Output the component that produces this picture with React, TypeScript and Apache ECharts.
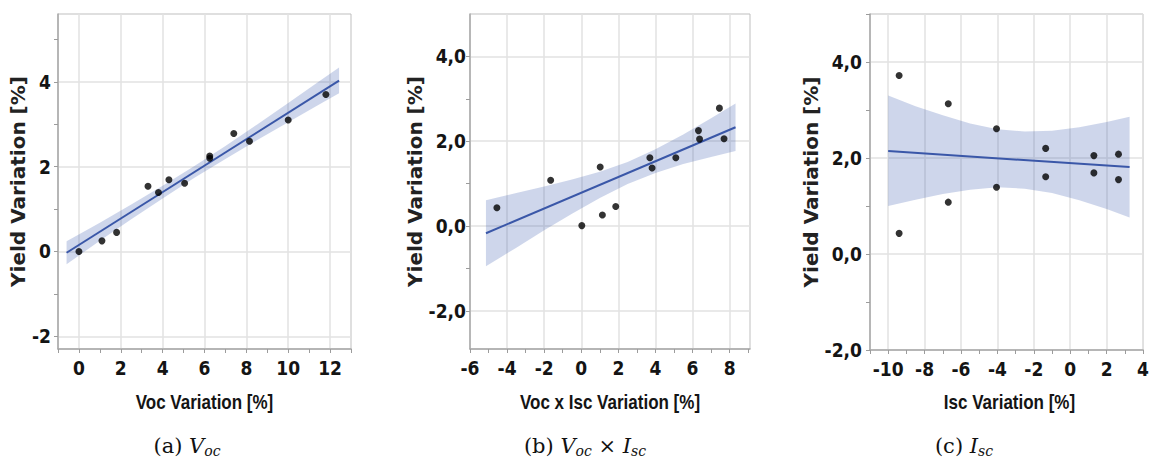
import React, { useEffect, useRef } from "react";
import * as echarts from "echarts";

const NARROW = "'Liberation Sans Narrow', 'DejaVu Sans Condensed', 'Arial Narrow', sans-serif";
const ARIAL = "'Liberation Sans', Arial, sans-serif";
const SANS = "'DejaVu Sans', 'Liberation Sans', sans-serif";
const SERIF = "'DejaVu Serif', 'Liberation Serif', serif";

// ---- (a) Yield variation vs Voc variation ----
const vocX = [0, 1.1, 1.8, 3.3, 3.8, 4.3, 5.05, 6.25, 6.25, 7.4, 8.15, 10.0, 11.8];
const vocY = [0, 0.25, 0.45, 1.54, 1.39, 1.69, 1.61, 2.25, 2.2, 2.78, 2.6, 3.1, 3.7];
const vocFitX = [-0.59, 12.43];
const vocFitY = [-0.03, 4.03];
const vocBandX = [-0.59, 1, 2.5, 4, 5.5, 7, 8.5, 10, 11.5, 12.43];
const vocBandUpper = [0.24, 0.68, 1.11, 1.55, 2.01, 2.49, 2.99, 3.5, 4.02, 4.34];
const vocBandLower = [-0.3, 0.25, 0.76, 1.25, 1.73, 2.18, 2.62, 3.05, 3.47, 3.73];
const vocXTicks = [-1, 0, 1, 2, 3, 4, 5, 6, 7, 8, 9, 10, 11, 12, 13];
const vocXLabels = [0, 2, 4, 6, 8, 10, 12];
const vocYTicks = [-2, -1, 0, 1, 2, 3, 4, 5];
const vocYLabels = [-2, 0, 2, 4];

// ---- (b) Yield variation vs Voc x Isc variation ----
const prodX = [-4.55, -1.65, 0.03, 1.02, 1.14, 1.86, 3.7, 3.82, 5.1, 6.32, 6.38, 7.45, 7.7];
const prodY = [0.43, 1.08, 0.01, 1.39, 0.26, 0.46, 1.61, 1.37, 1.61, 2.25, 2.05, 2.78, 2.06];
const prodFitX = [-5.14, 8.32];
const prodFitY = [-0.17, 2.33];
const prodBandX = [-5.14, -3.5, -2, -0.5, 1, 2.5, 4, 5.5, 7, 8.32];
const prodBandUpper = [0.61, 0.78, 0.93, 1.1, 1.28, 1.51, 1.81, 2.16, 2.54, 2.89];
const prodBandLower = [-0.95, -0.51, -0.1, 0.29, 0.66, 0.99, 1.25, 1.46, 1.63, 1.77];
const prodXTicks = [-6, -5, -4, -3, -2, -1, 0, 1, 2, 3, 4, 5, 6, 7, 8, 9];
const prodXLabels = [-6, -4, -2, 0, 2, 4, 6, 8];
const prodYTicks = [-2, -1, 0, 1, 2, 3, 4];
const prodYLabels = [-2, 0, 2, 4];

// ---- (c) Yield variation vs Isc variation ----
const iscX = [-9.4, -9.4, -6.7, -6.7, -4.05, -4.05, -1.35, -1.35, 1.3, 1.3, 2.65, 2.65];
const iscY = [3.72, 0.43, 3.13, 1.08, 2.61, 1.39, 2.2, 1.61, 2.05, 1.69, 2.08, 1.55];
const iscFitX = [-10, 3.26];
const iscFitY = [2.145, 1.81];
const iscBandX = [-10, -8.5, -7, -5.5, -4, -2.5, -1, 0.5, 2, 3.26];
const iscBandUpper = [3.3, 3.08, 2.89, 2.72, 2.6, 2.55, 2.57, 2.64, 2.75, 2.86];
const iscBandLower = [1.0, 1.13, 1.25, 1.34, 1.39, 1.36, 1.27, 1.12, 0.94, 0.76];
const iscXTicks = [-11, -10, -9, -8, -7, -6, -5, -4, -3, -2, -1, 0, 1, 2, 3, 4];
const iscXLabels = [-10, -8, -6, -4, -2, 0, 2, 4];
const iscYTicks = [-2, -1, 0, 1, 2, 3, 4, 5];
const iscYLabels = [-2, 0, 2, 4];

// Caption pieces: [text, kind] where kind is n = upright, i = italic, s = italic subscript
type Piece = [string, "n" | "i" | "s"];
const captionA: Piece[] = [["(a) ", "n"], ["V", "i"], ["oc", "s"]];
const captionB: Piece[] = [["(b) ", "n"], ["V", "i"], ["oc", "s"], [" × ", "n"], ["I", "i"], ["sc", "s"]];
const captionC: Piece[] = [["(c) ", "n"], ["I", "i"], ["sc", "s"]];

const commaOne = (v: number) => v.toFixed(1).replace(".", ",");
const plain = (v: number) => String(v);

type Panel = {
  box: [number, number, number, number];
  xRange: [number, number];
  yRange: [number, number];
  xTicks: number[];
  xLabels: number[];
  yTicks: number[];
  yLabels: number[];
  yFormat: (v: number) => string;
  yLabelMargin: number;
  xName: string;
  yNameGap: number;
  caption: Piece[];
  captionX: number;
  px: number[];
  py: number[];
  fitX: number[];
  fitY: number[];
  bandX: number[];
  bandUpper: number[];
  bandLower: number[];
};

const panels: Panel[] = [
  {
    box: [58, 14, 293, 335],
    xRange: [-1, 13],
    yRange: [-2.3, 5.6],
    xTicks: vocXTicks,
    xLabels: vocXLabels,
    yTicks: vocYTicks,
    yLabels: vocYLabels,
    yFormat: plain,
    yLabelMargin: 7,
    xName: "Voc Variation [%]",
    yNameGap: 29,
    caption: captionA,
    captionX: 187,
    px: vocX,
    py: vocY,
    fitX: vocFitX,
    fitY: vocFitY,
    bandX: vocBandX,
    bandUpper: vocBandUpper,
    bandLower: vocBandLower,
  },
  {
    box: [470, 14, 280, 335],
    xRange: [-6, 9.1],
    yRange: [-2.9, 5],
    xTicks: prodXTicks,
    xLabels: prodXLabels,
    yTicks: prodYTicks,
    yLabels: prodYLabels,
    yFormat: commaOne,
    yLabelMargin: 4,
    xName: "Voc x Isc Variation [%]",
    yNameGap: 42,
    caption: captionB,
    captionX: 585,
    px: prodX,
    py: prodY,
    fitX: prodFitX,
    fitY: prodFitY,
    bandX: prodBandX,
    bandUpper: prodBandUpper,
    bandLower: prodBandLower,
  },
  {
    box: [870, 14, 279, 336],
    xRange: [-11, 4],
    yRange: [-2, 5],
    xTicks: iscXTicks,
    xLabels: iscXLabels,
    yTicks: iscYTicks,
    yLabels: iscYLabels,
    yFormat: commaOne,
    yLabelMargin: 8,
    xName: "Isc Variation [%]",
    yNameGap: 43,
    caption: captionC,
    captionX: 964,
    px: iscX,
    py: iscY,
    fitX: iscFitX,
    fitY: iscFitY,
    bandX: iscBandX,
    bandUpper: iscBandUpper,
    bandLower: iscBandLower,
  },
];

const AXIS_COLOR = "#a8a8a8";
const GRID_COLOR = "#e2e2e2";
const TICK_TEXT = {
  fontFamily: NARROW,
  fontWeight: "bold" as const,
  fontSize: 19,
  color: "#141414",
};

const PIECE_FONT: Record<string, string> = {
  n: `21px ${SERIF}`,
  i: `italic 21px ${SERIF}`,
  s: `italic 14px ${SERIF}`,
};

// Lay out a caption as separate text elements so the subscripts sit lower.
function captionElements(parts: Piece[], cx: number, cy: number) {
  const ctx = document.createElement("canvas").getContext("2d") as CanvasRenderingContext2D;
  const widths = parts.map(([t, k]) => {
    ctx.font = PIECE_FONT[k];
    return ctx.measureText(t).width;
  });
  const total = widths.reduce((a, b) => a + b, 0);
  let x = cx - total / 2;
  return parts.map(([t, k], idx) => {
    const el = {
      type: "text",
      x,
      y: k === "s" ? cy + 4.5 : cy,
      silent: true,
      style: {
        text: t,
        font: PIECE_FONT[k],
        fill: "#111",
        align: "left",
        verticalAlign: "middle",
      },
    };
    x += widths[idx];
    return el;
  });
}

function buildOption() {
  const grid: any[] = [];
  const xAxis: any[] = [];
  const yAxis: any[] = [];
  const series: any[] = [];
  const graphic: any[] = [];

  panels.forEach((p, i) => {
    const [left, top, width, height] = p.box;
    grid.push({
      left,
      top,
      width,
      height,
      show: true,
      borderColor: "#bfbfbf",
      borderWidth: 1,
      backgroundColor: "transparent",
    });

    // visible axes: ticks at every integer, labels at even values
    xAxis.push({
      type: "value",
      gridIndex: i,
      position: "bottom",
      min: p.xRange[0],
      max: p.xRange[1],
      axisLine: { show: true, onZero: false, lineStyle: { color: AXIS_COLOR, width: 1.5 } },
      axisTick: { show: true, length: 4, customValues: p.xTicks, lineStyle: { color: "#9c9c9c", width: 1 } },
      axisLabel: { customValues: p.xLabels, margin: 9, formatter: plain, ...TICK_TEXT },
      splitLine: { show: false },
    });
    // grid-line axis: major values only
    xAxis.push({
      type: "value",
      gridIndex: i,
      position: "bottom",
      min: p.xRange[0],
      max: p.xRange[1],
      axisLine: { show: false },
      axisTick: { show: false, customValues: p.xLabels },
      axisLabel: { show: false, customValues: p.xLabels },
      splitLine: { show: true, lineStyle: { color: GRID_COLOR, width: 1.5 } },
    });

    yAxis.push({
      type: "value",
      gridIndex: i,
      position: "left",
      min: p.yRange[0],
      max: p.yRange[1],
      axisLine: { show: true, onZero: false, lineStyle: { color: AXIS_COLOR, width: 1.5 } },
      axisTick: { show: true, length: 4, customValues: p.yTicks, lineStyle: { color: "#9c9c9c", width: 1 } },
      axisLabel: { customValues: p.yLabels, margin: p.yLabelMargin, formatter: p.yFormat, ...TICK_TEXT },
      splitLine: { show: false },
      name: "Yield Variation [%]",
      nameLocation: "middle",
      nameRotate: 90,
      nameGap: p.yNameGap,
      nameTextStyle: { fontFamily: SANS, fontWeight: "bold", fontSize: 20, color: "#222" },
    });
    yAxis.push({
      type: "value",
      gridIndex: i,
      position: "left",
      min: p.yRange[0],
      max: p.yRange[1],
      axisLine: { show: false },
      axisTick: { show: false, customValues: p.yLabels },
      axisLabel: { show: false, customValues: p.yLabels },
      splitLine: { show: true, lineStyle: { color: GRID_COLOR, width: 1.5 } },
    });

    // x-axis title, set in a condensed bold face under the tick labels
    graphic.push({
      type: "text",
      x: left + width / 2,
      y: 402,
      scaleX: 0.81,
      silent: true,
      style: {
        text: p.xName,
        font: `bold 21px ${ARIAL}`,
        fill: "#141414",
        align: "center",
        verticalAlign: "middle",
      },
    });

    // panel caption
    graphic.push(...captionElements(p.caption, p.captionX, 446));

    const xi = i * 2;
    const yi = i * 2;

    // confidence band of the fit, drawn as one polygon
    series.push({
      type: "custom",
      xAxisIndex: xi,
      yAxisIndex: yi,
      silent: true,
      z: 2,
      data: p.bandX.map((x, k) => [x, p.bandUpper[k], p.bandLower[k]]),
      encode: { x: 0, y: [1, 2] },
      renderItem: (params: any, api: any) => {
        if (params.dataIndex !== 0) return null;
        const pts: number[][] = [];
        for (let k = 0; k < p.bandX.length; k++) pts.push(api.coord([p.bandX[k], p.bandUpper[k]]));
        for (let k = p.bandX.length - 1; k >= 0; k--) pts.push(api.coord([p.bandX[k], p.bandLower[k]]));
        return {
          type: "polygon",
          shape: { points: pts },
          style: { fill: "rgba(64, 96, 176, 0.26)", stroke: "none" },
        };
      },
    });

    // regression line
    series.push({
      type: "line",
      xAxisIndex: xi,
      yAxisIndex: yi,
      silent: true,
      z: 3,
      symbol: "none",
      data: p.fitX.map((x, k) => [x, p.fitY[k]]),
      lineStyle: { color: "#3a57a8", width: 2 },
    });

    // measurements
    series.push({
      type: "scatter",
      xAxisIndex: xi,
      yAxisIndex: yi,
      silent: true,
      z: 4,
      symbolSize: 7,
      data: p.px.map((x, k) => [x, p.py[k]]),
      itemStyle: { color: "#000" },
    });
  });

  return {
    animation: false,
    backgroundColor: "#ffffff",
    grid,
    xAxis,
    yAxis,
    series,
    graphic,
  };
}

export default function App() {
  const ref = useRef<HTMLDivElement>(null);
  useEffect(() => {
    document.body.style.margin = "0";
    const chart = echarts.init(ref.current as HTMLDivElement, undefined, { renderer: "svg" });
    chart.setOption(buildOption() as any);
    return () => {
      chart.dispose();
    };
  }, []);
  return <div ref={ref} style={{ width: 1152, height: 459 }} />;
}
